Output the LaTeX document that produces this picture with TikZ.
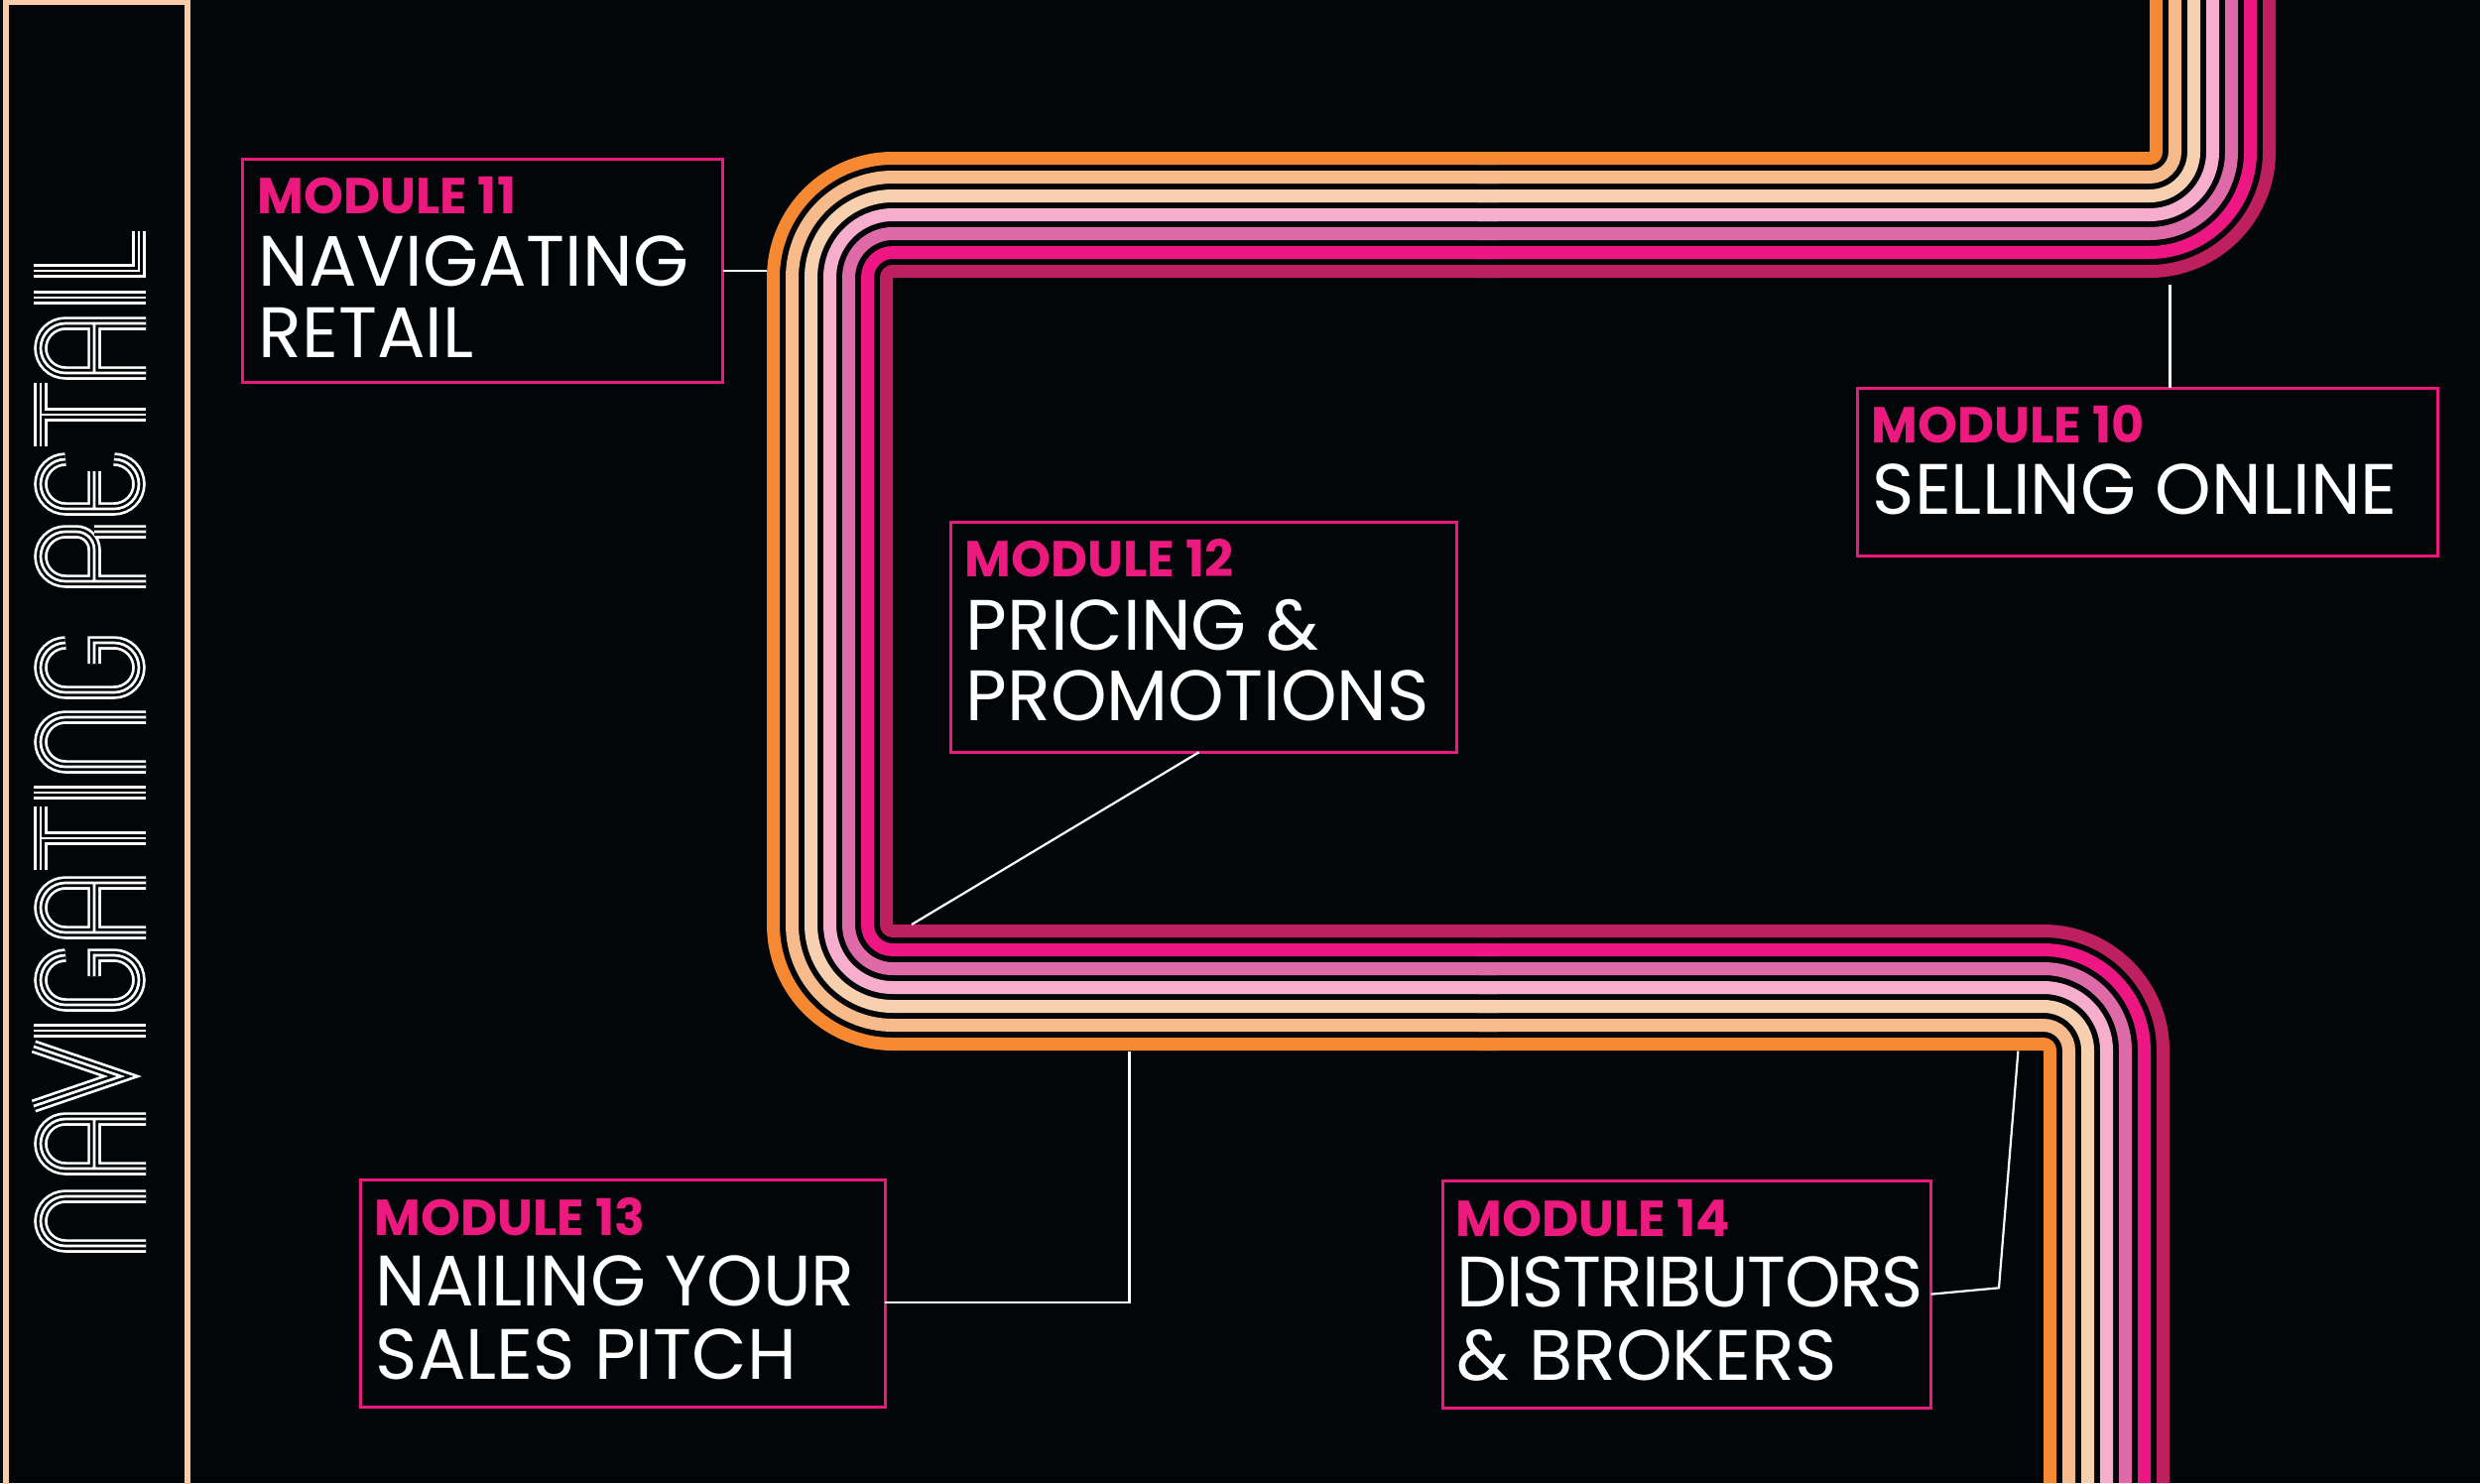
\documentclass[tikz,border=0pt]{standalone}
\usepackage{fontspec}
\setmainfont{Poppins}
\usetikzlibrary{calc, positioning}
\definecolor{bgdark}{HTML}{030608}
\definecolor{hotmag}{HTML}{EC1A7F}
\definecolor{framepeach}{HTML}{F6CDA8}
\definecolor{lineA}{HTML}{F58831}
\definecolor{lineB}{HTML}{F7BB8B}
\definecolor{lineC}{HTML}{F6D0AF}
\definecolor{lineD}{HTML}{F7ADCC}
\definecolor{lineE}{HTML}{DE6AA8}
\definecolor{lineF}{HTML}{ED1683}
\definecolor{lineG}{HTML}{BE1F5E}

% three white lines for the title letters
\newcommand{\tripleline}[1]{%
  \draw[glyphout] #1;
  \draw[glyphgap] #1;
  \draw[glyphin] #1;}

\tikzset{
  glyphout/.style={white, line width=0.135cm, line cap=butt, line join=miter},
  glyphgap/.style={bgdark, line width=0.081cm, line cap=butt, line join=miter},
  glyphin/.style={white, line width=0.027cm, line cap=butt, line join=miter},
  ltrN/.pic={\tripleline{(0.07,0) -- (0.07,0.81) arc[start angle=180, end angle=0, radius=0.25] -- (0.57,0)}},
  ltrA/.pic={\tripleline{(0.07,0) -- (0.07,0.81) arc[start angle=180, end angle=0, radius=0.25] -- (0.57,0)
      (0.07,0.52) -- (0.57,0.52)}},
  ltrV/.pic={\tripleline{(0.02,1.13) -- (0.32,0.25) -- (0.62,1.13)}},
  ltrI/.pic={\tripleline{(0.07,0) -- (0.07,1.13)}},
  ltrG/.pic={\tripleline{(0.57,0.81) arc[start angle=0, end angle=180, radius=0.25] -- (0.07,0.32)
      arc[start angle=180, end angle=360, radius=0.25] -- (0.57,0.52) -- (0.36,0.52)}},
  ltrE/.pic={\tripleline{(0.57,0.81) arc[start angle=0, end angle=180, radius=0.25] -- (0.07,0.32)
      arc[start angle=180, end angle=360, radius=0.25] (0.07,0.52) -- (0.45,0.52)}},
  ltrR/.pic={\tripleline{(0.07,0) -- (0.07,0.81) arc[start angle=180, end angle=0, radius=0.25] -- (0.57,0.70)
      arc[start angle=0, end angle=-90, radius=0.18] -- (0.07,0.52) (0.57,0.52) -- (0.57,0)}},
  ltrT/.pic={\tripleline{(0,1.06) -- (0.64,1.06) (0.32,1.06) -- (0.32,0)}},
  ltrL/.pic={\tripleline{(0.07,1.13) -- (0.07,0.07) -- (0.47,0.07)}}
}

\begin{document}
\begin{tikzpicture}[
    modbox/.style={draw=hotmag, line width=0.03cm, rectangle, inner sep=0pt, outer sep=0pt, anchor=north west},
    modtag/.style={text=hotmag, font=\fontsize{14.5}{17}\selectfont\bfseries, inner sep=0pt, anchor=base west},
    modtitle/.style={text=white, font=\fontsize{20.5}{24}\selectfont, inner sep=0pt, anchor=base west},
    link/.style={white, line width=0.022cm},
    band/.style={line width=0.13cm}
]
% Background
\useasboundingbox (0,0) rectangle (25,-14.95);
\fill[bgdark] (0,0) rectangle (25,-14.95);

% Title frame
\draw[framepeach, line width=0.055cm] (0.058,-0.02) rectangle (1.89,-15.1);

% Title, bottom to top
\pic[rotate=90] at (1.47,-12.63) {ltrN};
\pic[rotate=90] at (1.47,-11.85) {ltrA};
\pic[rotate=90] at (1.47,-11.17) {ltrV};
\pic[rotate=90] at (1.47,-10.46) {ltrI};
\pic[rotate=90] at (1.47,-10.20) {ltrG};
\pic[rotate=90] at (1.47,-9.47) {ltrA};
\pic[rotate=90] at (1.47,-8.77) {ltrT};
\pic[rotate=90] at (1.47,-8.06) {ltrI};
\pic[rotate=90] at (1.47,-7.80) {ltrN};
\pic[rotate=90] at (1.47,-7.05) {ltrG};
\pic[rotate=90] at (1.47,-5.93) {ltrR};
\pic[rotate=90] at (1.47,-5.20) {ltrE};
\pic[rotate=90] at (1.47,-4.50) {ltrT};
\pic[rotate=90] at (1.47,-3.83) {ltrA};
\pic[rotate=90] at (1.47,-3.07) {ltrI};
\pic[rotate=90] at (1.47,-2.80) {ltrL};

% Stripes
\foreach \i/\col in {0/lineA,1/lineB,2/lineC,3/lineD,4/lineE,5/lineF,6/lineG}{
  \pgfmathsetmacro{\xa}{21.735+0.19*\i}
  \pgfmathsetmacro{\xb}{7.795+0.19*\i}
  \pgfmathsetmacro{\xc}{20.665+0.19*\i}
  \pgfmathsetmacro{\ya}{-1.595-0.19*\i}
  \pgfmathsetmacro{\yb}{-10.525+0.19*\i}
  \pgfmathsetmacro{\ra}{0.065+0.19*\i}
  \pgfmathsetmacro{\rb}{1.205-0.19*\i}
  \draw[band, draw=\col, rounded corners=\ra cm] (\xa,0) -- (\xa,\ya) -- (14.9,\ya);
  \draw[band, draw=\col, rounded corners=\rb cm] (15.1,\ya) -- (\xb,\ya) -- (\xb,\yb) -- (15.1,\yb);
  \draw[band, draw=\col, rounded corners=\ra cm] (14.9,\yb) -- (\xc,\yb) -- (\xc,-14.95);
}

% Module boxes
\node[modbox, minimum width=4.841cm, minimum height=2.25cm] (m11) at (2.447,-1.607) {};
\node[modbox, minimum width=5.85cm, minimum height=1.69cm] (m10) at (18.72,-3.91) {};
\node[modbox, minimum width=5.106cm, minimum height=2.323cm] (m12) at (9.58,-5.26) {};
\node[modbox, minimum width=5.293cm, minimum height=2.29cm] (m13) at (3.63,-11.893) {};
\node[modbox, minimum width=4.925cm, minimum height=2.293cm] (m14) at (14.54,-11.90) {};

% Box texts
\node[modtag] (m11tag) at ($(m11.north west)+(0.14,-0.55)$) {MODULE 11};
\node[modtitle] (m11top) at ($(m11.north west)+(0.15,-1.275)$) {NAVIGATING};
\node[modtitle] (m11bot) at ($(m11.north west)+(0.15,-2.0)$) {RETAIL};

\node[modtag] (m10tag) at ($(m10.north west)+(0.14,-0.55)$) {MODULE 10};
\node[modtitle] (m10top) at ($(m10.north west)+(0.15,-1.275)$) {SELLING ONLINE};

\node[modtag] (m12tag) at ($(m12.north west)+(0.14,-0.55)$) {MODULE 12};
\node[modtitle] (m12top) at ($(m12.north west)+(0.15,-1.29)$) {PRICING \&};
\node[modtitle] (m12bot) at ($(m12.north west)+(0.15,-2.0)$) {PROMOTIONS};

\node[modtag] (m13tag) at ($(m13.north west)+(0.14,-0.56)$) {MODULE 13};
\node[modtitle] (m13top) at ($(m13.north west)+(0.15,-1.275)$) {NAILING YOUR};
\node[modtitle] (m13bot) at ($(m13.north west)+(0.15,-2.01)$) {SALES PITCH};

\node[modtag] (m14tag) at ($(m14.north west)+(0.13,-0.56)$) {MODULE 14};
\node[modtitle] (m14top) at ($(m14.north west)+(0.14,-1.275)$) {\addfontfeatures{LetterSpace=-2.0}DISTRIBUTORS};
\node[modtitle] (m14bot) at ($(m14.north west)+(0.14,-2.01)$) {\& BROKERS};

% Connectors
\coordinate (c11) at (7.73,-2.72);
\draw[link] (m11.east) -- (m11.east -| c11);

\coordinate (c10) at (21.875,-2.87);
\draw[link] (m10.north -| c10) -- (c10);

\coordinate (c12) at (9.19,-9.32);
\draw[link] ([xshift=-0.047cm]m12.south) -- (c12);

\coordinate (c13) at (11.385,-10.595);
\draw[link] ([yshift=-0.093cm]m13.east) -| (c13);

\coordinate (c14) at (20.344,-10.595);
\coordinate (k14) at (20.15,-12.983);
\draw[link] (m14.east) -- (k14) -- (c14);
\end{tikzpicture}
\end{document}
